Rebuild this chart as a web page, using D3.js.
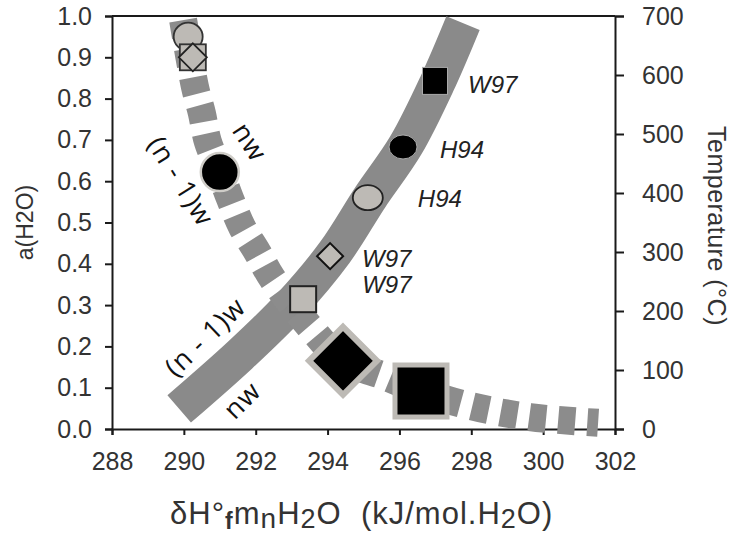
<!DOCTYPE html>
<html>
<head>
<meta charset="utf-8">
<script src="https://cdn.jsdelivr.net/npm/d3@7"></script>
<style>
  body { margin: 0; background: #fff; }
  svg { display: block; font-family: "Liberation Sans", Arial, sans-serif; }
</style>
</head>
<body>
<div id="chart"></div>
<script>
// Axis ticks
const xTicks = [288, 290, 292, 294, 296, 298, 300, 302];
const aTicks = [0, 0.1, 0.2, 0.3, 0.4, 0.5, 0.6, 0.7, 0.8, 0.9, 1.0];
const tTicks = [0, 100, 200, 300, 400, 500, 600, 700];

// Solid band: enthalpy vs temperature (right axis)
const bandX = [289.87, 291.56, 292.95, 294.21, 295.18, 296.18, 297.05, 297.77];
const bandT = [34, 125, 208, 300, 392, 481, 586, 688];

// Dashed curve: enthalpy vs a(H2O) (left axis)
const dashX = [289.98, 290.31, 290.50, 290.67, 291.01, 291.28, 291.62, 292.04, 292.45, 293.51, 294.43, 295.49, 296.60, 297.96, 299.63, 301.53];
const dashA = [0.99, 0.828, 0.765, 0.695, 0.622, 0.559, 0.489, 0.429, 0.366, 0.247, 0.165, 0.131, 0.092, 0.056, 0.029, 0.015];

// Points on the band (temperature)
const tempX = [296.99, 296.10, 295.12, 294.07, 293.32];
const tempT = [590, 478, 392, 293, 220];
const tempRef = ["W97", "H94", "H94", "W97", "W97"];

// Points on the dashed curve (a(H2O))
const actX = [290.12, 290.25, 290.25, 291.00, 294.43, 296.60];
const actA = [0.95, 0.90, 0.90, 0.622, 0.165, 0.092];

var width = 733, height = 540;
var margin = { top: 16, right: 118, bottom: 111, left: 112 };

var svg = d3.select("#chart")
    .append("svg")
    .attr("width", width)
    .attr("height", height);

var x = d3.scaleLinear().domain([288, 302]).range([margin.left, width - margin.right]);
var ya = d3.scaleLinear().domain([0, 1]).range([height - margin.bottom, margin.top]);
var yt = d3.scaleLinear().domain([0, 700]).range([height - margin.bottom, margin.top]);

var x0 = x.range()[0], x1 = x.range()[1], y0 = ya.range()[0], y1 = ya.range()[1];

// Axes
var gx = svg.append("g")
    .attr("transform", "translate(0," + y0 + ")")
    .call(d3.axisBottom(x).tickValues(xTicks).tickFormat(d3.format("d")).tickSizeOuter(0).tickSize(6).tickPadding(17));
var gl = svg.append("g")
    .attr("transform", "translate(" + x0 + ",0)")
    .call(d3.axisLeft(ya).tickValues(aTicks).tickFormat(d3.format(".1f")).tickSizeOuter(0).tickSize(7).tickPadding(13));
var gr = svg.append("g")
    .attr("transform", "translate(" + x1 + ",0)")
    .call(d3.axisRight(yt).tickValues(tTicks).tickFormat(d3.format("d")).tickSizeOuter(0).tickSize(9).tickPadding(18));

[gx, gl, gr].forEach(function (g) {
    g.selectAll("path, line").attr("stroke", "#1a1a1a").attr("stroke-width", 2);
    g.selectAll("text")
        .attr("fill", "#333")
        .style("font-size", "25px")
        .style("font-family", "'Liberation Sans', Arial, sans-serif");
});

// top frame line
svg.append("line")
    .attr("x1", x0).attr("x2", x1)
    .attr("y1", y1).attr("y2", y1)
    .attr("stroke", "#1a1a1a").attr("stroke-width", 2);

// Axis titles
svg.append("text")
    .attr("transform", "translate(25," + (y0 + y1) / 2 + ") rotate(-90)")
    .attr("text-anchor", "middle")
    .attr("dy", "0.35em")
    .attr("fill", "#333")
    .style("font-size", "23px")
    .text("a(H2O)");

svg.append("text")
    .attr("transform", "translate(708," + 226 + ") rotate(90)")
    .attr("text-anchor", "middle")
    .attr("fill", "#333")
    .style("font-size", "25px")
    .style("letter-spacing", "0.5px")
    .text("Temperature (°C)");

var xt = svg.append("text")
    .attr("x", 170)
    .attr("y", 524)
    .attr("fill", "#333")
    .attr("xml:space", "preserve")
    .style("font-size", "31px")
    .style("letter-spacing", "1px");
xt.append("tspan").text("δH°");
xt.append("tspan").attr("dy", 5).style("font-size", "23px").style("font-weight", "bold").text("f");
xt.append("tspan").attr("dy", -5).text("m");
xt.append("tspan").attr("dy", 4).style("font-size", "28px").text("n");
xt.append("tspan").attr("dy", -4).text("H");
xt.append("tspan").attr("dy", 4).style("font-size", "27px").text("2");
xt.append("tspan").attr("dy", -4).text("O  (kJ/mol.H");
xt.append("tspan").attr("dy", 4).style("font-size", "27px").text("2");
xt.append("tspan").attr("dy", -4).text("O)");

// Solid band
var bandLine = d3.line()
    .x(function (d, i) { return x(bandX[i]); })
    .y(function (d, i) { return yt(bandT[i]); })
    .curve(d3.curveCatmullRom);
svg.append("path")
    .attr("d", bandLine(bandX))
    .attr("fill", "none")
    .attr("stroke", "#8a8a8a")
    .attr("stroke-width", 36);

// Dashed curve
var dashLine = d3.line()
    .x(function (d, i) { return x(dashX[i]); })
    .y(function (d, i) { return ya(dashA[i]); })
    .curve(d3.curveCatmullRom);
svg.append("path")
    .attr("d", dashLine(dashX))
    .attr("fill", "none")
    .attr("stroke", "#8c8c8c")
    .attr("stroke-width", 28)
    .attr("stroke-dasharray", "17,12");

// Markers
function marker(shape, cx, cy, o) {
    var el;
    if (shape === "ellipse") {
        el = svg.append("ellipse").attr("cx", cx).attr("cy", cy).attr("rx", o.w).attr("ry", o.h);
    } else if (shape === "square") {
        el = svg.append("rect").attr("x", cx - o.w / 2).attr("y", cy - o.h / 2).attr("width", o.w).attr("height", o.h);
    } else {
        el = svg.append("path").attr("d", "M" + cx + "," + (cy - o.h) + "L" + (cx + o.w) + "," + cy +
            "L" + cx + "," + (cy + o.h) + "L" + (cx - o.w) + "," + cy + "Z");
    }
    el.attr("fill", o.fill).attr("stroke", o.stroke).attr("stroke-width", o.sw);
}

var grey = "#bdbab5";
var actStyle = [
    { shape: "ellipse", w: 14.5, h: 14, fill: grey, stroke: "#333", sw: 1.8 },
    { shape: "square", w: 26, h: 26, fill: grey, stroke: "#333", sw: 1.8 },
    { shape: "diamond", w: 14, h: 14, fill: grey, stroke: "#222", sw: 1.8 },
    { shape: "ellipse", w: 19, h: 19, fill: "#000", stroke: "#cfcdc8", sw: 2.5 },
    { shape: "diamond", w: 34, h: 34, fill: "#000", stroke: grey, sw: 6 },
    { shape: "square", w: 52, h: 52, fill: "#000", stroke: grey, sw: 5 }
];
actX.forEach(function (v, i) {
    var s = actStyle[i];
    marker(s.shape, x(v), ya(actA[i]), s);
});

var tempStyle = [
    { shape: "square", w: 25, h: 27, fill: "#000", stroke: "#aaa", sw: 1, lx: 33, ly: 12 },
    { shape: "ellipse", w: 14, h: 12, fill: "#000", stroke: "#aaa", sw: 1, lx: 37, ly: 11 },
    { shape: "ellipse", w: 15, h: 12.5, fill: grey, stroke: "#222", sw: 1.8, lx: 50, ly: 9 },
    { shape: "diamond", w: 13, h: 13, fill: grey, stroke: "#111", sw: 2, lx: 32, ly: 11 },
    { shape: "square", w: 26, h: 26, fill: grey, stroke: "#222", sw: 2, lx: 59, ly: -6 }
];
tempX.forEach(function (v, i) {
    var s = tempStyle[i];
    marker(s.shape, x(v), yt(tempT[i]), s);
    svg.append("text")
        .attr("x", x(v) + s.lx)
        .attr("y", yt(tempT[i]) + s.ly)
        .attr("fill", "#222")
        .style("font-size", "24px")
        .style("font-style", "italic")
        .text(tempRef[i]);
});

// Curve annotations
var notes = [
    { t: "nw", x: 291.84, a: 0.695, r: 57 },
    { t: "(n - 1)w", x: 289.92, a: 0.60, r: 58 },
    { t: "(n - 1)w", x: 290.59, a: 0.223, r: -44 },
    { t: "nw", x: 291.62, a: 0.070, r: -45 }
];
notes.forEach(function (n) {
    svg.append("text")
        .attr("transform", "translate(" + x(n.x) + "," + ya(n.a) + ") rotate(" + n.r + ")")
        .attr("text-anchor", "middle")
        .attr("dy", "0.35em")
        .attr("fill", "#111")
        .style("font-size", "27px")
        .style("letter-spacing", "1px")
        .style("font-family", "'Open Sans', sans-serif")
        .text(n.t);
});
</script>
</body>
</html>
